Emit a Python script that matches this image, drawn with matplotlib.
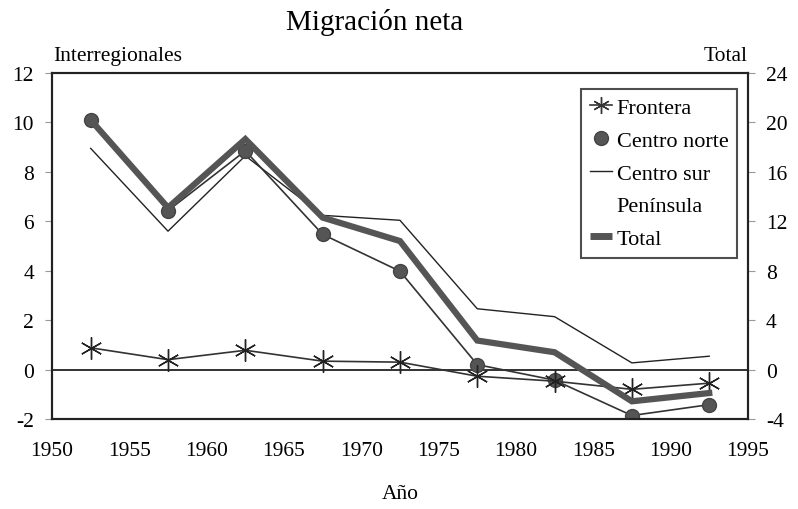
import matplotlib.pyplot as plt
from matplotlib.lines import Line2D

plt.rcParams['font.family'] = ['Liberation Serif', 'DejaVu Serif']
plt.rcParams['axes.unicode_minus'] = False

years = [1952.5, 1957.5, 1962.5, 1967.5, 1972.5, 1977.5, 1982.5, 1987.5, 1992.5]
frontera = [0.88, 0.40, 0.78, 0.34, 0.30, -0.27, -0.47, -0.80, -0.55]
centro_norte = [10.1, 6.43, 8.85, 5.47, 3.98, 0.20, -0.43, -1.86, -1.42]
centro_sur = [8.95, 5.6, 8.65, 6.24, 6.04, 2.46, 2.14, 0.27, 0.54]
total = [20.2, 13.1, 18.65, 12.3, 10.4, 2.35, 1.4, -2.57, -1.9]

x_ticks = [1950, 1955, 1960, 1965, 1970, 1975, 1980, 1985, 1990, 1995]
left_ticks = [-2, 0, 2, 4, 6, 8, 10, 12]
right_ticks = [-4, 0, 4, 8, 12, 16, 20, 24]

fig = plt.figure(figsize=(7.98, 5.10), dpi=100)
ax = fig.add_axes([0.0652, 0.1765, 0.872, 0.6784])
ax2 = ax.twinx()

ax.axhline(0, color='#222222', lw=1.3, zorder=1)

ax2.plot(years, total, color='#555555', lw=4.5, solid_joinstyle='miter', zorder=3)
ax.plot(years, centro_sur, color='#222222', lw=1.0, zorder=2)
ax.plot(years, centro_norte, color='#333333', lw=1.2, marker='o', ms=10,
        mfc='#555555', mec='#444444', zorder=4)
ax.plot(years, frontera, color='#333333', lw=1.2, marker=(6, 2, 0), ms=16,
        mec='#222222', mew=1.0, zorder=4)

ax.set_xlim(1950, 1995)
ax.set_ylim(-2, 12)
ax2.set_ylim(-4, 24)
ax.set_xticks(x_ticks)
ax.set_yticks(left_ticks)
ax2.set_yticks(right_ticks)

ax.tick_params(axis='x', length=0, pad=16, labelsize=15.5)
ax.tick_params(axis='y', length=5, color='#999999', labelsize=15.5, pad=8)
ax2.tick_params(axis='y', length=5, color='#999999', labelsize=15.5, pad=8)

for a in (ax, ax2):
    for s in a.spines.values():
        s.set_color('#222222')
        s.set_linewidth(1.5)

ax.set_xlabel('Año', fontsize=15.5, labelpad=17)
fig.text(0.47, 0.955, 'Migración neta', ha='center', va='center', fontsize=21)
fig.text(0.067, 0.89, 'Interregionales', ha='left', va='center', fontsize=15.5)
fig.text(0.937, 0.89, 'Total', ha='right', va='center', fontsize=15.5)

handles = [
    Line2D([], [], color='#333333', lw=1.2, marker=(6, 2, 0), ms=12),
    Line2D([], [], color='none', marker='o', ms=10, mfc='#555555', mec='#444444'),
    Line2D([], [], color='#222222', lw=1.0),
    Line2D([], [], color='none'),
    Line2D([], [], color='#555555', lw=5, solid_capstyle='butt'),
]
labels = ['Frontera', 'Centro norte', 'Centro sur', 'Península', 'Total']
leg = ax2.legend(handles, labels, loc='upper right', bbox_to_anchor=(0.985, 0.955),
                 fontsize=16, frameon=True, fancybox=False, handlelength=1.0,
                 handletextpad=0.2, borderpad=0.4, labelspacing=0.55,
                 borderaxespad=0)
leg.get_frame().set_edgecolor('#222222')
leg.get_frame().set_linewidth(1.5)

fig.savefig('out.png', dpi=100)
